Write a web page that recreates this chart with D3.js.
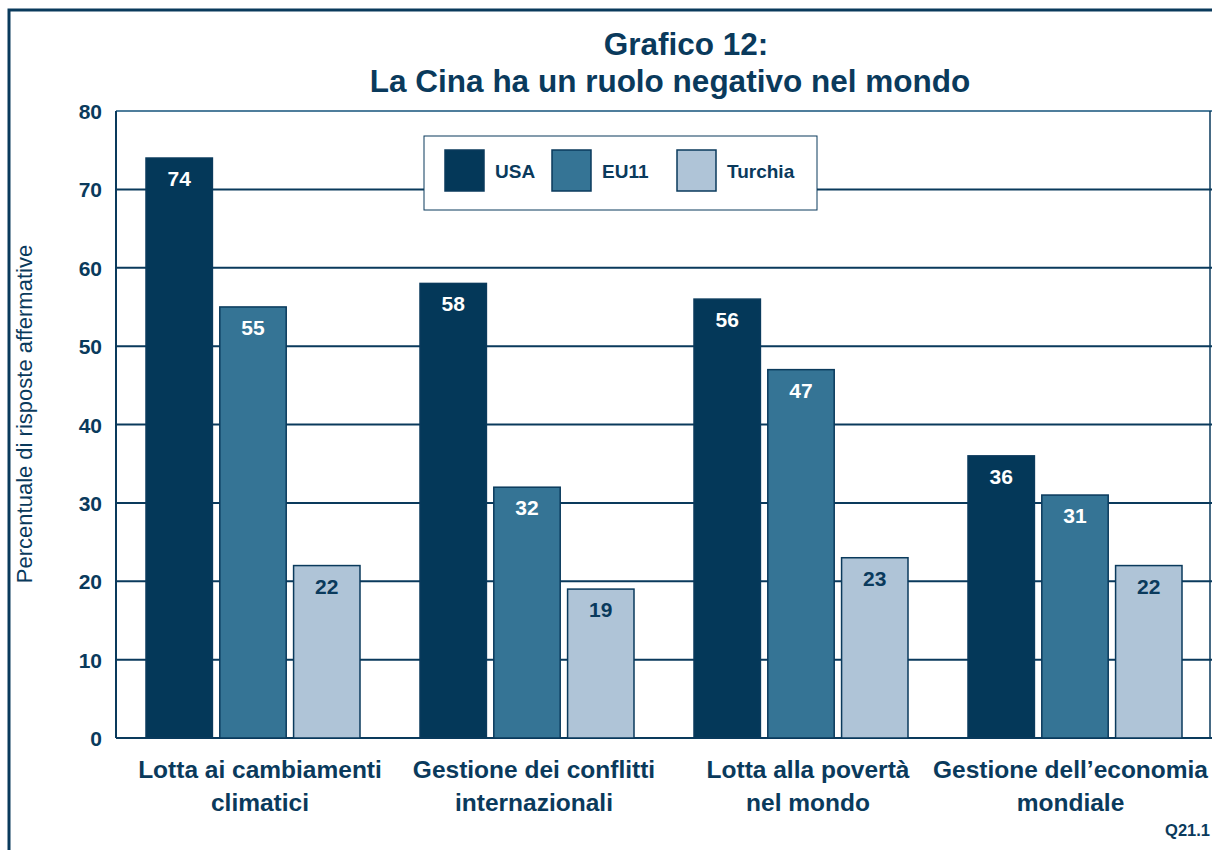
<!DOCTYPE html>
<html>
<head>
<meta charset="utf-8">
<script src="https://cdn.jsdelivr.net/npm/d3@7"></script>
<style>
  body { margin: 0; background: #fff; }
  svg { display: block; font-family: "Liberation Sans", Arial, sans-serif; }
</style>
</head>
<body>
<svg id="chart" width="1212" height="850"></svg>
<script>
const categories = [
  ["Lotta ai cambiamenti", "climatici"],
  ["Gestione dei conflitti", "internazionali"],
  ["Lotta alla povertà", "nel mondo"],
  ["Gestione dell\u2019economia", "mondiale"]
];
const seriesNames = ["USA", "EU11", "Turchia"];
const usaValues = [74, 58, 56, 36];
const eu11Values = [55, 32, 47, 31];
const turchiaValues = [22, 19, 23, 22];
const yTicks = [0, 10, 20, 30, 40, 50, 60, 70, 80];

const navy = "#0a3a5c";
const colors = { USA: "#043859", EU11: "#357495", Turchia: "#afc4d7" };
const labelColors = { USA: "#fff", EU11: "#fff", Turchia: navy };

const values = { USA: usaValues, EU11: eu11Values, Turchia: turchiaValues };
const data = categories.map((c, i) => ({
  key: c.join(" "),
  lines: c,
  bars: seriesNames.map(s => ({ series: s, value: values[s][i] }))
}));

const svg = d3.select("#chart");

// outer frame
svg.append("path")
  .attr("d", "M9,852 V10 H1214")
  .attr("fill", "none")
  .attr("stroke", navy)
  .attr("stroke-width", 3);

const x0 = d3.scaleBand().domain(data.map(d => d.key)).range([116, 1212]).padding(0);
const x1 = d3.scaleBand().domain(seriesNames).range([30, 244]).paddingInner(0.1);
const y = d3.scaleLinear().domain([0, 80]).range([738, 111]);

// gridlines
svg.append("g")
  .selectAll("line")
  .data(yTicks)
  .join("line")
  .attr("x1", 116)
  .attr("x2", 1212)
  .attr("y1", d => y(d))
  .attr("y2", d => y(d))
  .attr("stroke", d => d === 80 ? "#4f7e9c" : navy)
  .attr("stroke-width", 2);

// plot border
svg.append("line")
  .attr("x1", 116).attr("x2", 116)
  .attr("y1", y(80)).attr("y2", y(0))
  .attr("stroke", navy).attr("stroke-width", 2);
svg.append("line")
  .attr("x1", 1210).attr("x2", 1210)
  .attr("y1", y(80)).attr("y2", y(0))
  .attr("stroke", navy).attr("stroke-width", 1.5);

// y tick labels
const yAxis = svg.append("g")
  .attr("transform", "translate(102,0)")
  .call(d3.axisLeft(y).tickValues(yTicks).tickSize(0).tickPadding(0));
yAxis.select(".domain").remove();
yAxis.selectAll("text")
  .attr("fill", navy)
  .attr("font-size", 21)
  .attr("font-weight", "bold")
  .attr("font-family", "Liberation Sans, Arial, sans-serif")
  .attr("dy", "0.36em");

// y axis title
svg.append("text")
  .attr("transform", "translate(32,414) rotate(-90)")
  .attr("text-anchor", "middle")
  .attr("fill", navy)
  .attr("font-size", 22)
  .text("Percentuale di risposte affermative");

// bars
const groups = svg.append("g")
  .selectAll("g")
  .data(data)
  .join("g")
  .attr("transform", d => `translate(${x0(d.key)},0)`);

groups.selectAll("rect")
  .data(d => d.bars)
  .join("rect")
  .attr("x", d => x1(d.series))
  .attr("width", x1.bandwidth())
  .attr("y", d => y(d.value))
  .attr("height", d => y(0) - y(d.value))
  .attr("fill", d => colors[d.series])
  .attr("stroke", navy)
  .attr("stroke-width", 1.5);

groups.selectAll("text.value")
  .data(d => d.bars)
  .join("text")
  .attr("class", "value")
  .attr("x", d => x1(d.series) + x1.bandwidth() / 2)
  .attr("y", d => y(d.value) + 28)
  .attr("text-anchor", "middle")
  .attr("fill", d => labelColors[d.series])
  .attr("font-size", 21)
  .attr("font-weight", "bold")
  .text(d => d.value);

// category labels
const catLabels = svg.append("g")
  .selectAll("text")
  .data(data)
  .join("text")
  .attr("y", 778)
  .attr("fill", navy)
  .attr("font-size", 24.5)
  .attr("font-weight", "bold");
catLabels.selectAll("tspan")
  .data(d => d.lines)
  .join("tspan")
  .attr("text-anchor", "middle")
  .attr("dy", (d, i) => i === 0 ? 0 : 33)
  .text(d => d);
// center each label under its group, but keep it inside the frame
catLabels.each(function (d) {
  const t = d3.select(this);
  const w = d3.max(t.selectAll("tspan").nodes(), n => n.getComputedTextLength());
  const cx = Math.min(x0(d.key) + x0.bandwidth() / 2 + 7, 1208 - w / 2);
  t.selectAll("tspan").attr("x", cx);
});

// title
svg.append("text")
  .attr("x", 686).attr("y", 55)
  .attr("text-anchor", "middle")
  .attr("fill", navy)
  .attr("font-size", 31.5)
  .attr("font-weight", "bold")
  .text("Grafico 12:");
svg.append("text")
  .attr("x", 670).attr("y", 92)
  .attr("text-anchor", "middle")
  .attr("fill", navy)
  .attr("font-size", 31.5)
  .attr("font-weight", "bold")
  .text("La Cina ha un ruolo negativo nel mondo");

// legend
const legend = svg.append("g").attr("transform", "translate(424,136)");
legend.append("rect")
  .attr("width", 393).attr("height", 74)
  .attr("fill", "#fff")
  .attr("stroke", navy)
  .attr("stroke-width", 1);
const legendX = { USA: 21, EU11: 128, Turchia: 253 };
const items = legend.selectAll("g.item")
  .data(seriesNames)
  .join("g")
  .attr("class", "item")
  .attr("transform", d => `translate(${legendX[d]},14)`);
items.append("rect")
  .attr("width", 39).attr("height", 41)
  .attr("fill", d => colors[d])
  .attr("stroke", navy)
  .attr("stroke-width", 1.5);
items.append("text")
  .attr("x", 50).attr("y", 28)
  .attr("fill", navy)
  .attr("font-size", 19)
  .attr("font-weight", "bold")
  .text(d => d);

// footnote
svg.append("text")
  .attr("x", 1210).attr("y", 836)
  .attr("text-anchor", "end")
  .attr("fill", navy)
  .attr("font-size", 16.5)
  .attr("font-weight", "bold")
  .text("Q21.1");
</script>
</body>
</html>
